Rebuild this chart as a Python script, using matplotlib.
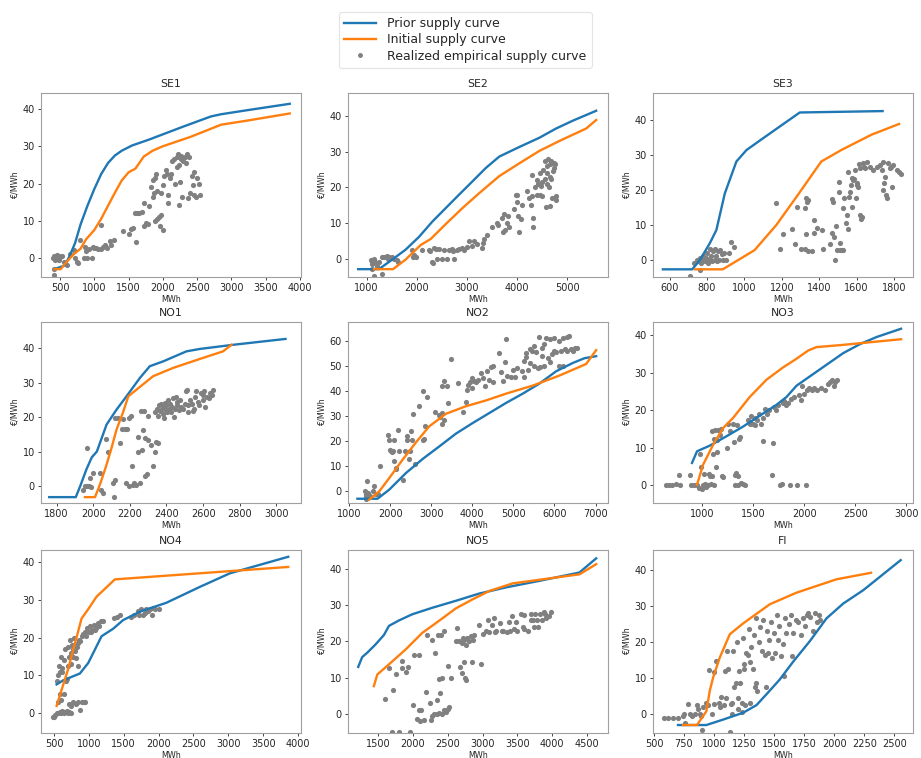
import matplotlib
matplotlib.use("Agg")
import matplotlib.pyplot as plt
from matplotlib.lines import Line2D
from matplotlib.ticker import MultipleLocator

titles = ["SE1", "SE2", "SE3", "NO1", "NO2", "NO3", "NO4", "NO5", "FI"]

# ---------------- prior (blue) and initial (orange) supply curves ----------------
se1_prior_x = [420, 570, 640, 720, 800, 900, 1000, 1100, 1200, 1300, 1400, 1550, 1800, 2000, 2300, 2700, 2850, 3200, 3850]
se1_prior_y = [-3, -2, 0.5, 4, 9, 14, 18.5, 22.5, 25.5, 27.5, 28.8, 30.2, 31.8, 33.2, 35.3, 38, 38.6, 39.6, 41.4]
se1_init_x = [420, 510, 600, 700, 800, 880, 1000, 1100, 1200, 1300, 1400, 1500, 1600, 1720, 1850, 2000, 2400, 2850, 3200, 3850]
se1_init_y = [-3, -3, -1, 1, 2.5, 5, 7.5, 10.5, 14, 17.5, 20.8, 23, 24, 27.2, 28.8, 30, 32.5, 35.8, 36.8, 38.8]

se2_prior_x = [833, 1247, 1513, 1780, 2047, 2313, 2580, 2847, 3047, 3380, 3647, 4047, 4447, 4780, 5113, 5580]
se2_prior_y = [-3, -3, -0.3, 2.5, 6.1, 10.4, 14.2, 18, 20.8, 25.5, 28.7, 31.4, 34, 36.6, 38.8, 41.6]
se2_init_x = [1147, 1527, 1780, 2080, 2280, 2580, 2913, 3247, 3647, 4047, 4447, 4847, 5380, 5580]
se2_init_y = [-3, -3, -0.3, 3.8, 5.5, 9.7, 14.2, 18.4, 23.2, 26.8, 30.3, 33.1, 36.6, 39]

se3_prior_x = [564, 721, 761, 814, 850, 895, 957, 1011, 1100, 1296, 1739]
se3_prior_y = [-2.8, -2.8, -0.2, 4.6, 8.5, 19, 28.2, 31.5, 34.9, 42.3, 42.7]
se3_init_x = [736, 884, 1054, 1170, 1286, 1411, 1518, 1679, 1827]
se3_init_y = [-2.8, -2.8, 2.7, 9.9, 18.6, 28.2, 31.5, 35.9, 39]

no1_prior_x = [1760, 1905, 1930, 1962, 1992, 2020, 2073, 2127, 2182, 2255, 2309, 2382, 2509, 2582, 2764, 3050]
no1_prior_y = [-3.1, -3.1, 0.2, 4.8, 8.4, 10.1, 17.9, 22.2, 26.1, 31.4, 34.8, 36.2, 39.1, 39.8, 41, 42.7]
no1_init_x = [1955, 2010, 2040, 2070, 2100, 2127, 2162, 2192, 2236, 2327, 2436, 2582, 2709, 2755]
no1_init_y = [-3.1, -3.1, 1, 5.8, 11.1, 16.4, 21.3, 26.1, 28, 31.9, 34.3, 36.9, 39.1, 41]

no2_prior_x = [1203, 1691, 1976, 2382, 2789, 3195, 3602, 4008, 4415, 4821, 5228, 5634, 6041, 6447, 6732, 7016]
no2_prior_y = [-2.9, -2.9, 0.7, 7.3, 12.9, 17.9, 23, 27.2, 31.2, 35.2, 38.9, 42.9, 47.8, 51.1, 53, 53.8]
no2_init_x = [1488, 1732, 1976, 2301, 2626, 2951, 3358, 3846, 4333, 4821, 5472, 6122, 6772, 7016]
no2_init_y = [-3.3, 0, 5.3, 12.6, 19.5, 25.9, 30.9, 33.9, 36.2, 38.9, 42.1, 46.1, 50.7, 56.2]

no3_prior_x = [902, 951, 1075, 1239, 1402, 1565, 1729, 1827, 1925, 2056, 2219, 2382, 2546, 2709, 2948]
no3_prior_y = [6, 9.1, 10.6, 13.1, 15.7, 18.6, 21.5, 23.6, 26.6, 29.1, 32.2, 35.3, 37.7, 39.6, 41.8]
no3_init_x = [951, 1010, 1108, 1206, 1304, 1467, 1631, 1794, 1925, 2039, 2121, 2382, 2644, 2948]
no3_init_y = [0.2, 5.5, 10.8, 15.3, 18, 23.6, 28.2, 31.5, 33.8, 36, 36.9, 37.5, 38.2, 39]

no4_prior_x = [538, 634, 872, 992, 1183, 1350, 1493, 1732, 2114, 2592, 3022, 3860]
no4_prior_y = [7.6, 8.7, 10.5, 13.3, 20.4, 22.4, 24.7, 26.9, 29.3, 33.5, 37.1, 41.5]
no4_init_x = [538, 705, 896, 992, 1111, 1374, 3860]
no4_init_y = [1.9, 11.8, 25.1, 27.6, 30.9, 35.5, 38.8]

no5_prior_x = [1212, 1269, 1341, 1462, 1582, 1654, 1798, 1990, 2279, 2615, 2952, 3337, 3817, 4394, 4635]
no5_prior_y = [13, 15.7, 16.9, 19.2, 21.8, 24.3, 25.8, 27.5, 29.3, 31.2, 33.2, 34.9, 36.7, 39, 42.9]
no5_init_x = [1437, 1486, 1654, 1894, 2135, 2375, 2615, 2856, 3096, 3433, 3817, 4394, 4635]
no5_init_y = [7.7, 10.9, 13.7, 17.8, 22.4, 25.7, 29.1, 31.6, 33.9, 36, 37, 38.5, 41.3]

fi_prior_x = [700, 936, 1075, 1242, 1353, 1436, 1547, 1658, 1797, 1936, 2075, 2242, 2553]
fi_prior_y = [-3, -3, -1.5, 0.4, 2.5, 5.5, 9.6, 14.5, 20.2, 26.5, 30.6, 34.3, 42.6]
fi_init_x = [742, 858, 936, 964, 992, 1047, 1131, 1242, 1464, 1686, 2019, 2306]
fi_init_y = [-3, -3, 0.8, 6.4, 10.1, 15.6, 22.1, 25.1, 30.4, 33.6, 37.3, 39.1]

# ---------------- realized empirical supply points ----------------
se1_pts_x = [400, 420, 430, 440, 450, 460, 470, 480, 490, 500,
             410, 410, 530, 560, 600, 640, 700, 720, 750, 770,
             790, 850, 870, 880, 900, 930, 960, 980, 1000, 1030,
             1060, 1100, 1100, 1130, 1150, 1180, 1230, 1250, 1290, 1420,
             1500, 1530, 1560, 1600, 1620, 1650, 1610, 1700, 1720, 1730,
             1760, 1780, 1800, 1830, 1850, 1850, 1870, 1880, 1900, 1920,
             1880, 1920, 1950, 1960, 1980, 2000, 1980, 2000, 2020, 2050,
             2060, 2070, 2080, 2100, 2120, 2130, 2160, 2180, 2200, 2200,
             2220, 2230, 2240, 2250, 2260, 2270, 2280, 2300, 2320, 2340,
             2350, 2360, 2380, 2400, 2420, 2440, 2450, 2460, 2480, 2500,
             2520, 2540]
se1_pts_y = [0, 0.5, -0.5, 0, 0.8, -0.3, 0.3, 0.6, -0.5, 0.2,
             -3, -4.5, 0.5, -1, -2, 1, 2.2, 0, -1, -1.3,
             4.8, 0, 3, 2, 0, 2.5, 0, 3, 2.7, 2.8,
             2.5, 2.5, 8.8, 3, 3.5, 2.7, 4.5, 3.5, 4.8, 7.3,
             6.5, 7.8, 8, 12, 12, 12.2, 4.2, 12.3, 8.5, 14.7,
             9.5, 9.2, 14, 19, 21, 16.5, 17.5, 21.5, 22.5, 18,
             10, 10.5, 11, 8.5, 11.5, 7.5, 17.5, 19.5, 22, 23.5,
             22.5, 14.7, 17, 21.5, 22.5, 26, 26.5, 20, 24.5, 27,
             28, 25, 14.3, 20.5, 26.5, 27.5, 16.5, 26, 27, 25.5,
             28, 16, 27, 17.5, 22, 19.5, 17, 23, 16.5, 21.5,
             20, 17]

se2_pts_x = [1080, 1100, 1110, 1120, 1140, 1160, 1100, 1150, 1200, 1250,
             1300, 1300, 1350, 1400, 1420, 1450, 1500, 1550, 1600, 1620,
             1900, 1920, 1950, 1980, 2100, 2250, 2270, 2300, 2320, 2350,
             2380, 2400, 2450, 2500, 2550, 2600, 2650, 2700, 2720, 2740,
             2800, 2850, 2900, 2950, 3000, 3050, 3100, 3150, 3200, 3300,
             3320, 3350, 3400, 3500, 3600, 3620, 3700, 3720, 3750, 3770,
             3800, 3820, 3850, 3950, 3980, 4000, 4010, 4020, 4050, 4080,
             4100, 4200, 4250, 4280, 4300, 4300, 4320, 4320, 4350, 4400,
             4400, 4420, 4450, 4450, 4480, 4500, 4500, 4520, 4550, 4550,
             4580, 4600, 4600, 4620, 4630, 4650, 4650, 4660, 4680, 4700,
             4700, 4720, 4740, 4760, 4770, 4780, 4600, 4680, 4730]
se2_pts_y = [-0.5, -1.5, -0.8, -1.2, 0, -1, -3, -5, -2, -1,
             -4.3, 0.3, 0.5, 0.8, 0, 0.5, 0.3, 0, -0.5, -1,
             2.5, 0.5, 1, 0.5, 2.5, 2.5, 2, -1, -1.3, 3,
             2.8, -0.2, 2.8, 0, 2.5, 0, 2.5, 2.8, 2, 0,
             2.5, 2.8, 3, 2.5, 3.2, 5, 3.5, 4.8, 4, 3,
             4.5, 5.5, 6.5, 9, 10, 9.5, 11.5, 7.5, 12.5, 8,
             10, 12, 9, 14, 18, 16, 18, 12, 7.5, 11,
             15, 19, 17, 15, 17.5, 23.5, 8.8, 11.5, 20, 18,
             22, 21, 24, 18, 20.5, 21.5, 17.5, 25, 22.5, 27.5,
             14.5, 26, 21, 28, 20, 14.7, 26.5, 23, 22.5, 27,
             17, 24.5, 25.5, 26.5, 16.5, 17.5, 24, 27.5, 27]

se3_pts_x = [707, 764, 730, 745, 750, 760, 770, 775, 780, 790,
             795, 800, 805, 810, 815, 820, 825, 830, 840, 845,
             850, 855, 860, 865, 870, 880, 885, 890, 900, 920,
             930, 945,
             1168, 1189, 1204, 1257, 1270, 1279, 1300, 1323, 1341, 1359,
             1329, 1371, 1371, 1386, 1416, 1421, 1457, 1466, 1475, 1466,
             1479, 1489, 1486, 1495, 1509, 1511, 1520, 1504, 1504, 1329,
             1332, 1323, 1340,
             1529, 1529, 1534, 1543, 1550, 1552, 1555, 1561, 1564, 1568,
             1573, 1577, 1582, 1586, 1591, 1596, 1600, 1604, 1609, 1614,
             1618, 1618, 1621, 1627, 1636, 1639, 1645, 1654, 1671, 1689,
             1707, 1725, 1734, 1743, 1743, 1746, 1752, 1757, 1761, 1770,
             1779, 1782, 1787, 1796, 1814, 1825, 1837]
se3_pts_y = [-4.6, -2.9, -1, 0, -0.5, 0.5, -1, 0, 1, -0.5,
             0.5, 2, -1, 0, 3, 1, -0.5, 2.5, 0, 3,
             1, -0.5, 2.5, 0, 2.8, 1.5, 0, 2, 0, 1.8,
             5, 3.5,
             16.4, 3, 7.5, 8.8, 4.4, 15, 2.9, 3.1, 2.5, 2.5,
             7.4, 11.3, 7.7, 9.1, 8.6, 3, 4.6, 17.4, 16.5, 7.7,
             6.5, 9.7, 0, 2.7, 2.7, 4.7, 2.7, 19.5, 22.4, 17.6,
             16.6, 14.7, 17.2,
             2.7, 14.7, 17.6, 10.4, 12.8, 8.9, 25.3, 18.1, 19.5, 21.4,
             23.4, 15.2, 22.9, 23.1, 25.8, 17.6, 21.9, 21.4, 21, 27.5,
             26.3, 12.8, 11.8, 12.3, 27.7, 26.7, 26.3, 28.2, 26.7, 25.8,
             26.7, 27.2, 25.8, 28.2, 20, 21.9, 23.8, 18.6, 17.6, 27.7,
             26.3, 26.7, 21, 27.2, 25.8, 25.3, 24.6]

no1_pts_x = [1945, 1955, 1965, 1975, 1990, 1965, 1985, 2000, 2035, 2040,
             2055, 2068, 2080, 2112, 2110, 2118, 2120, 2135, 2145, 2155,
             2165, 2175, 2185, 2180, 2195, 2195, 2205, 2210, 2215, 2225,
             2235, 2245, 2245, 2255, 2262, 2268, 2272, 2275, 2285, 2285,
             2295, 2300, 2300, 2315, 2325, 2335, 2345, 2355, 2340, 2350,
             2355, 2360, 2365, 2370, 2375, 2380, 2385, 2390, 2395, 2400,
             2405, 2410, 2415, 2420, 2425, 2430, 2435, 2440, 2445, 2450,
             2455, 2460, 2470, 2475, 2480, 2490, 2500, 2505, 2510, 2515,
             2520, 2530, 2540, 2550, 2555, 2560, 2570, 2580, 2590, 2600,
             2605, 2610, 2620, 2630, 2640, 2650, 2655, 2600, 2545, 2385]
no1_pts_y = [-1, 0, 0, 0, -0.3, 11, 2.5, 4, 4, -1,
             -2, 13.7, 10, -3.2, 1, 2, 19.8, 19.8, 12.5, 16.5,
             19.5, 16.5, 16.5, 1, 0, 19.8, 20.3, 6, 0.5, 1,
             0.5, 14.2, 10, 1, 21.8, 10.5, 16.3, 21.8, 14, 3,
             3.6, 13.5, 20.3, 12, 5.8, 10, 12.8, 12.5, 21.5, 22.5,
             20.5, 23.5, 21.8, 24, 22.5, 21, 23, 24.2, 22, 23.5,
             21.5, 25, 22.5, 24, 21.5, 23, 25.5, 20, 22.5, 26,
             23.5, 24.5, 22, 25, 23, 22.5, 24, 27.5, 28, 23.5,
             21.5, 25, 24, 22.5, 26, 27.5, 24.5, 23.5, 27, 25,
             27.5, 23, 26, 25.5, 27, 26.5, 28, 26.5, 21.8, 19.8]

no2_pts_x = [1380, 1400, 1410, 1420, 1440, 1450, 1500, 1580, 1600, 1650,
             1700, 1750, 1950, 1980, 2000, 2020, 2050, 2080, 2100, 2100,
             2130, 2150, 2200, 2220, 2300, 2350, 2400, 2420, 2450, 2480,
             2500, 2520, 2550, 2600, 2700, 2800, 2820, 2850, 2900, 2800,
             3100, 3200, 3220, 3250, 3270, 3300, 3250, 3300, 3380, 3400,
             3480, 3650, 3780, 3850, 3880, 3900, 3950, 4000, 4000, 4050,
             4100, 4150, 4200, 4250, 4300, 4350, 4400, 4450, 4500, 4500,
             4650, 4700, 4750, 4800, 4820, 4850, 4950, 5000, 5050, 5100,
             5200, 5250, 5250, 5300, 5300, 5350, 5400, 5450, 5500, 5550,
             5600, 5620, 5650, 5700, 5750, 5750, 5800, 5850, 5900, 5900,
             5950, 6000, 6050, 6100, 6100, 6150, 6200, 6200, 6250, 6300,
             6350, 6400, 6450, 6500, 6550, 5400, 5500, 5700, 6000, 6300]
no2_pts_y = [0, -1, -2, -3, 4, -0.5, -2, 0.3, 2, -1,
             -1, 10, 22.5, 20.5, 16.5, 16, 15.5, 16, 12, 20.5,
             9.5, 8.8, 24.5, 16, 4.5, 16, 22, 20.5, 13, 16,
             24, 20.5, 31, 11, 34, 40, 21, 26, 37.5, 20.5,
             31.5, 30.5, 29.5, 31.2, 27, 28.5, 42, 44, 41.8, 35,
             52.5, 43.2, 31.5, 35.5, 40.5, 42.5, 43.5, 41, 45, 44,
             43.5, 44.5, 47, 45, 42, 48, 44.5, 49.5, 50, 43.5,
             55.2, 47.5, 44, 51.5, 60.5, 46, 45.5, 48.5, 45.5, 49,
             48, 45.5, 52, 55, 53.5, 48.5, 51, 56, 50, 55.5,
             49, 61.5, 49.5, 57, 50, 58.5, 61, 53, 60.5, 51.5,
             54.5, 61, 55.5, 50, 60, 56, 50, 61, 56.5, 56,
             62, 56.5, 56, 57, 57, 56.5, 58, 54, 56, 61.5]

no3_pts_x = [650, 680, 710, 750, 770, 780, 880, 890, 920, 950,
             975, 980, 990, 1000, 1010, 1020, 1030, 1040, 1060, 1070,
             1080, 1090, 1100, 1110, 1120, 1100, 1120, 1130, 1140, 1150,
             1160, 1150, 1180, 1190, 1200, 1210, 1240, 1250, 1270, 1300,
             1310, 1320, 1320, 1330, 1340, 1350, 1350, 1360, 1370, 1380,
             1400, 1420, 1450, 1470, 1480, 1500, 1520, 1540, 1560, 1580,
             1600, 1600, 1620, 1640, 1660, 1680, 1690, 1700, 1720, 1740,
             1760, 1780, 1790, 1800, 1820, 1840, 1860, 1870, 1900, 1930,
             1950, 1970, 1980, 2000, 2020, 2030, 2050, 2080, 2100, 2130,
             2160, 2200, 2230, 2250, 2270, 2290, 2300, 2320, 1470, 1520]
no3_pts_y = [0, 0, 0, 0.5, 2.8, 0, 2.8, 0, 0, 0,
             -0.8, 8.5, 5, -1, 0, 3, 0.3, -0.5, 0, 3,
             2.5, 0.5, 2.5, 8.5, 0, 14.5, 12.5, 14.8, 5, 12,
             14.8, 9, 13.5, 15, 2.5, 2.2, 10, 16.5, 14.5, 16.5,
             11.5, 0, 2.8, 3.2, 16, 0, 2.5, 12.5, 13, 0.7,
             0.3, 0, 17.5, 17, 18.5, 16.5, 18, 17.5, 19, 16.5,
             11.8, 18, 20.5, 19, 20, 2.7, 11.3, 21, 20, 21.5,
             0, 0.3, 22, 22.5, 21.5, 22, 0, 23, 23.5, 0,
             24, 22.8, 26.5, 24.5, 0, 25.5, 26, 25.5, 26, 25.5,
             26, 25.5, 27, 27.5, 28, 26.5, 27.5, 28, 16.5, 16]

no4_pts_x = [480, 500, 520, 540, 560, 580, 600, 620, 640, 660,
             680, 700, 720, 740, 560, 580, 600, 640, 550, 560,
             570, 580, 600, 620, 650, 670, 680, 700, 700, 720,
             730, 740, 750, 760, 770, 780, 790, 800, 810, 820,
             830, 840, 850, 860, 880, 900, 920, 940, 960, 980,
             1000, 1010, 1030, 1050, 1070, 1090, 1110, 1130, 1150, 1170,
             1200, 1100, 720, 750, 780, 820, 850, 880, 900, 930,
             950, 1360, 1400, 1450, 1600, 1650, 1700, 1720, 1750, 1800,
             1820, 1850, 1880, 1900, 1920, 1950, 2000, 1780, 620, 660]
no4_pts_y = [-1, -1, -0.5, 0, 0, 0.3, 0, 0.5, 0, 0.3,
             0.5, 0, 0.3, 0, 3, 5, 3.5, 5, 8.5, 10,
             12.5, 11, 15, 12, 14, 8.5, 9, 12.5, 17.5, 15,
             19.5, 16, 13, 18, 15, 17, 20, 16.5, 18, 14.5,
             17.5, 12.5, 18.5, 19.5, 19, 20.5, 21, 21.5, 20.5, 22.5,
             21.5, 23, 21.5, 22, 23.5, 22, 23, 24, 23, 24.5,
             24.5, 22.5, 2.5, 2, 3, 2.5, 3, 0.8, 2.8, 3,
             2.8, 25.2, 25.5, 26, 25.5, 26, 27, 26, 27.5, 26.5,
             27.5, 27, 27.5, 26, 28, 27.5, 27.5, 26, 11, 17]

no5_pts_x = [1600, 1650, 1710, 1760, 1700, 1800, 1950, 1840, 1840, 1900,
             1930, 2000, 2020, 2080, 2060, 2100, 2080, 2120, 2160, 2180,
             2200, 2250, 2260, 2270, 2280, 2300, 2320, 2350, 2360, 2380,
             2400, 2390, 2420, 2440, 2350, 2380, 2420, 2450, 2480, 2500,
             2500, 2520, 2540, 2620, 2640, 2660, 2680, 2700, 2720, 2740,
             2750, 2760, 2700, 2730, 2760, 2780, 2800, 2830, 2860, 2880,
             2850, 2950, 2980, 3000, 3050, 3080, 3100, 3140, 3160, 3180,
             3200, 3250, 3280, 3300, 3350, 3380, 3400, 3430, 3450, 3480,
             3500, 3550, 3580, 3600, 3650, 3700, 3720, 3740, 3760, 3780,
             3800, 3820, 3850, 3880, 3900, 3920, 3950, 3980, 3600, 3700]
no5_pts_y = [4.2, 12.7, 6.7, 11, -5, -5, -5, 12.6, 14.7, 11.5,
             13, 2.5, 16.3, 16.3, -1.3, -1.8, 1, 1, -1.5, 6,
             21.8, 3, -1.5, 20.5, -0.5, 0, 16.7, 4, 21.8, 9.8,
             21.8, 5.8, 10, 23, 0, 0.3, 0, 1, 0.5, 1.5,
             13.2, 2, 10, 20, 23.6, 20, 13, 11.2, 21, 14.3,
             10, 9.4, 19.5, 20.5, 19, 21, 20, 21.5, 20.5, 21.8,
             14.3, 24.5, 13.7, 22, 23, 26, 22.5, 24.5, 26.5, 22.5,
             23, 25, 22.8, 23, 22.5, 25.5, 23, 27, 23.5, 25.5,
             23, 27.5, 24, 23.5, 23, 27.5, 26, 24, 27.5, 26,
             24, 27.5, 26, 28, 27.5, 26.5, 27, 28.2, 27.2, 26]

fi_pts_x = [580, 620, 660, 700, 740, 750, 760, 780, 800, 820,
            840, 860, 870, 880, 890, 900, 910, 930, 950, 960,
            980, 1000, 1000, 1020, 1040, 1060, 1080, 1090, 1100, 1110,
            1120, 1130, 1140, 1150, 1160, 1170, 1180, 1190, 1200, 1210,
            1220, 1230, 1240, 1250, 1260, 1270, 1280, 1290, 1300, 1310,
            1320, 1330, 1340, 1350, 1360, 1370, 1380, 1400, 1410, 1420,
            1430, 1440, 1450, 1460, 1470, 1480, 1500, 1510, 1520, 1530,
            1540, 1560, 1570, 1580, 1590, 1600, 1620, 1640, 1650, 1660,
            1680, 1700, 1720, 1740, 1760, 1770, 1780, 1800, 1820, 1840,
            1860, 1870, 1880, 1300, 1250, 1200, 1230, 1050, 1150, 1350]
fi_pts_y = [-1, -1, -1, -1, -0.5, 0, -2.5, 2.7, 0, -0.5,
            0, 2.5, 1.5, 0, -0.5, -4.5, 2, 3, 2.5, 12.3,
            0, 2.8, 11.8, 14.7, 3, 4.8, 2.5, 12, 4.5, 17.5,
            12.5, -5, 2.8, 0, 17.5, 7.5, 8.5, 20, 4.5, 12,
            8.5, 3, 21, 14, 2.5, 17, 16.5, 23.5, 3, 18.5,
            12.5, 22, 7.5, 8.5, 6.5, 20, 24, 17.5, 26, 16.5,
            7.5, 23, 17, 20.5, 25.5, 15.5, 22.5, 17, 27.5, 20.5,
            24.5, 16, 19.5, 10.5, 26.5, 22.5, 25, 27.5, 16, 22.5,
            26, 25.5, 22, 26.5, 24.5, 27.5, 28, 27, 23, 28,
            25.5, 27.5, 26, 14.5, 12.5, 1.5, 0.5, 2, 3, 26.5]

# axis ranges and x tick steps
xlims = [(223, 4010), (633, 5813), (511, 1900), (1715, 3133), (976, 7301),
         (520, 3062), (314, 4039), (1067, 4803), (492, 2653)]
ylims = [(-5.1, 44.3), (-5.2, 46.6), (-5, 47.9), (-4.8, 47.6), (-4.6, 67.4),
         (-4.7, 43.6), (-5.3, 43.3), (-5.2, 45.2), (-5.2, 45.4)]
xsteps = [500, 1000, 200, 200, 1000, 500, 500, 500, 250]

prior_x = [se1_prior_x, se2_prior_x, se3_prior_x, no1_prior_x, no2_prior_x, no3_prior_x, no4_prior_x, no5_prior_x, fi_prior_x]
prior_y = [se1_prior_y, se2_prior_y, se3_prior_y, no1_prior_y, no2_prior_y, no3_prior_y, no4_prior_y, no5_prior_y, fi_prior_y]
init_x = [se1_init_x, se2_init_x, se3_init_x, no1_init_x, no2_init_x, no3_init_x, no4_init_x, no5_init_x, fi_init_x]
init_y = [se1_init_y, se2_init_y, se3_init_y, no1_init_y, no2_init_y, no3_init_y, no4_init_y, no5_init_y, fi_init_y]
pts_x = [se1_pts_x, se2_pts_x, se3_pts_x, no1_pts_x, no2_pts_x, no3_pts_x, no4_pts_x, no5_pts_x, fi_pts_x]
pts_y = [se1_pts_y, se2_pts_y, se3_pts_y, no1_pts_y, no2_pts_y, no3_pts_y, no4_pts_y, no5_pts_y, fi_pts_y]

BLUE = "#1f77b4"
ORANGE = "#ff7f0e"
GREY = "#808080"
SPINE = "#a0a0a0"
TEXT = "#262626"

fig = plt.figure(figsize=(9.21, 7.58), dpi=100)

lefts = [0.0445, 0.378, 0.709]
width = 0.282
rows = [(0.6346, 0.2427), (0.3364, 0.2388), (0.033, 0.2414)]

for i, name in enumerate(titles):
    r, c = divmod(i, 3)
    b, h = rows[r]
    ax = fig.add_axes([lefts[c], b, width, h])
    ax.scatter(pts_x[i], pts_y[i], s=14, color=GREY, zorder=2, linewidths=0)
    ax.plot(prior_x[i], prior_y[i], color=BLUE, lw=1.7, zorder=3)
    ax.plot(init_x[i], init_y[i], color=ORANGE, lw=1.7, zorder=3)
    ax.set_xlim(*xlims[i])
    ax.set_ylim(*ylims[i])
    ax.xaxis.set_major_locator(MultipleLocator(xsteps[i]))
    ax.yaxis.set_major_locator(MultipleLocator(10))
    ax.set_title(name, fontsize=7.8, color=TEXT, pad=4)
    ax.set_xlabel("MWh", fontsize=5.8, color=TEXT, labelpad=1)
    ax.set_ylabel("€/MWh", fontsize=5.8, color=TEXT, labelpad=2)
    ax.tick_params(labelsize=7, colors=TEXT, length=2.5, width=0.6, pad=2)
    for s in ax.spines.values():
        s.set_color(SPINE)
        s.set_linewidth(0.8)

handles = [Line2D([], [], color=BLUE, lw=1.7),
           Line2D([], [], color=ORANGE, lw=1.7),
           Line2D([], [], color=GREY, marker="o", ls="none", markersize=2.5)]
labels = ["Prior supply curve", "Initial supply curve", "Realized empirical supply curve"]
leg = fig.legend(handles, labels, loc="upper center", bbox_to_anchor=(0.505, 0.992),
                 fontsize=9, frameon=True, handlelength=2.6, borderpad=0.4,
                 labelspacing=0.25, handletextpad=0.9)
leg.get_frame().set_edgecolor("#dddddd")
leg.get_frame().set_linewidth(0.8)
for t in leg.get_texts():
    t.set_color(TEXT)

fig.savefig("out.png", dpi=100)
